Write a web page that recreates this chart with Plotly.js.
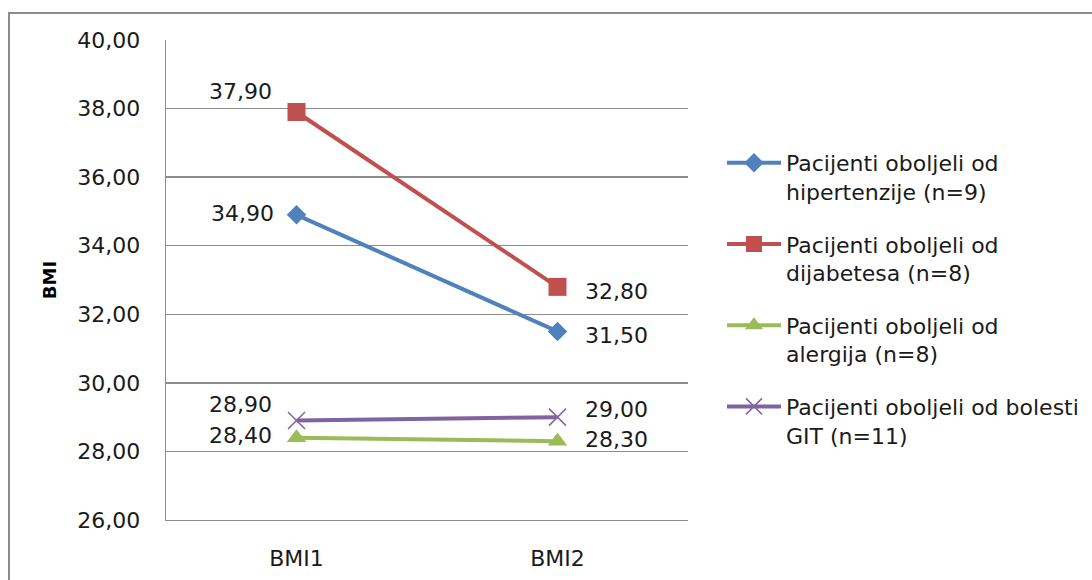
<!DOCTYPE html>
<html>
<head>
<meta charset="utf-8">
<script src="https://cdn.plot.ly/plotly-3.0.1.min.js"></script>
<style>
  html, body { margin: 0; padding: 0; background: #ffffff; overflow: hidden; }
  #chart { position: absolute; left: 0; top: 0; width: 1092px; height: 580px; }
  #frame { position: absolute; left: 8px; top: 12px; width: 1200px; height: 700px;
           border-left: 2px solid #8c8c8c; border-top: 2px solid #8c8c8c; pointer-events: none; }
</style>
</head>
<body>
<div id="chart"></div>
<div id="frame"></div>
<script>
// BMI at the two measurements, per patient group
const categories = ['BMI1', 'BMI2'];
const seriesNames = [
  'Pacijenti oboljeli od<br>hipertenzije (n=9)',
  'Pacijenti oboljeli od<br>dijabetesa (n=8)',
  'Pacijenti oboljeli od<br>alergija (n=8)',
  'Pacijenti oboljeli od bolesti<br>GIT (n=11)'
];
const hipertenzija = [34.90, 31.50];
const dijabetes = [37.90, 32.80];
const alergija = [28.40, 28.30];
const git = [28.90, 29.00];
const yTicks = [26, 28, 30, 32, 34, 36, 38, 40];

const seriesValues = [hipertenzija, dijabetes, alergija, git];
const colors = ['#4f81bd', '#c0504d', '#9bbb59', '#8064a2'];
const markers = [
  {symbol: 'diamond', size: 15, color: colors[0]},
  {symbol: 'square', size: 18, color: colors[1]},
  {symbol: 'triangle-up', size: 17, color: colors[2]},
  {symbol: 'x-thin-open', size: 17, color: colors[3], line: {color: colors[3], width: 1.5}}
];

const traces = seriesValues.map((vals, i) => ({
  type: 'scatter',
  mode: 'lines+markers',
  x: categories,
  y: vals,
  name: seriesNames[i],
  legendgroup: 'g' + i,
  line: {color: colors[i], width: 4},
  marker: markers[i],
  hoverinfo: 'skip'
}));

// value labels: [xshift, yshift, anchor] per series, per category
const labelPlacement = [
  [[-21, 1, 'right'], [25, -4, 'left']],
  [[-23, 21, 'right'], [25, -5, 'left']],
  [[-23, 2, 'right'], [25, 2, 'left']],
  [[-23, 16, 'right'], [25, 8, 'left']]
];
const fmt = v => v.toFixed(2).replace('.', ',');
const annotations = [];
seriesValues.forEach((vals, i) => {
  vals.forEach((v, j) => {
    const p = labelPlacement[i][j];
    annotations.push({
      x: categories[j], y: v, xref: 'x', yref: 'y',
      text: fmt(v), showarrow: false,
      xanchor: p[2], yanchor: 'middle', xshift: p[0], yshift: p[1],
      font: {family: 'DejaVu Sans', size: 22, color: '#1a1a1a'}
    });
  });
});

const gridColor = '#8c8c8c';
const layout = {
  width: 1092, height: 580,
  margin: {l: 166, r: 404, t: 40, b: 60},
  paper_bgcolor: '#ffffff',
  plot_bgcolor: '#ffffff',
  separators: ',.',
  font: {family: 'DejaVu Sans', size: 22, color: '#1a1a1a'},
  showlegend: true,
  xaxis: {
    type: 'category',
    range: [-0.5, 1.5],
    showgrid: false,
    showline: true, linecolor: gridColor, linewidth: 1.3,
    ticks: '', ticklabelstandoff: 18,
    tickfont: {family: 'DejaVu Sans', size: 22, color: '#1a1a1a'},
    zeroline: false, fixedrange: true
  },
  yaxis: {
    range: [26, 40],
    tickvals: yTicks,
    tickformat: '.2f',
    showgrid: true, gridcolor: gridColor, gridwidth: 1.3,
    showline: true, linecolor: gridColor, linewidth: 1.3,
    ticks: '', ticklabelstandoff: 20,
    tickfont: {family: 'DejaVu Sans', size: 22, color: '#1a1a1a'},
    zeroline: false, fixedrange: true,
    title: {text: '<b>BMI</b>', standoff: 16, font: {family: 'DejaVu Sans', size: 18, color: '#000000'}}
  },
  legend: {
    xref: 'container', yref: 'container',
    x: 722 / 1092, y: 1 - 142 / 580,
    xanchor: 'left', yanchor: 'top',
    itemwidth: 54,
    valign: 'top',
    tracegroupgap: 21,
    maxheight: 1,
    bgcolor: 'rgba(0,0,0,0)',
    font: {family: 'DejaVu Sans', size: 22, color: '#1a1a1a'}
  },
  annotations: annotations
};

Plotly.newPlot('chart', traces, layout, {staticPlot: true, displayModeBar: false});
</script>
</body>
</html>
